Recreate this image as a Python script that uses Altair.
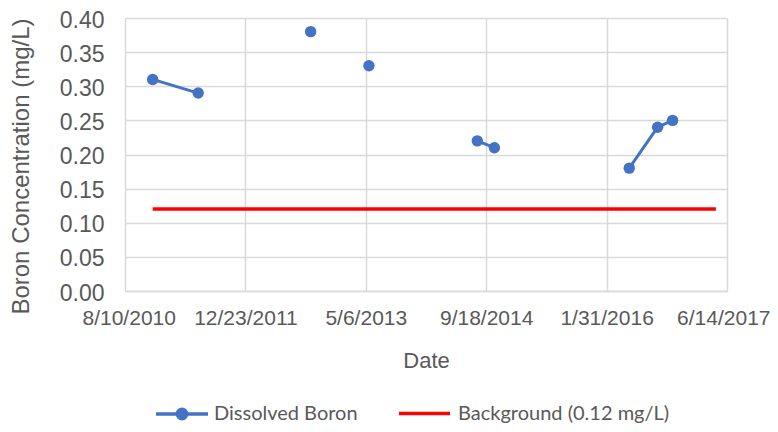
import altair as alt
import pandas as pd

# ---- data ----
boron_dates = ["2010-12-03", "2011-06-10", "2012-09-19", "2013-05-19", "2014-08-12",
               "2014-10-22", "2016-05-04", "2016-08-30", "2016-10-31"]
boron_values = [0.31, 0.29, 0.38, 0.33, 0.22, 0.21, 0.18, 0.24, 0.25]
boron_segments = [1, 1, 2, 3, 4, 4, 5, 5, 5]   # consecutive samples joined by a line

background_dates = ["2010-12-03", "2017-04-29"]
background_values = [0.12, 0.12]

x_ticks = [(2010, 8, 10), (2011, 12, 23), (2013, 5, 6), (2014, 9, 18), (2016, 1, 31), (2017, 6, 14)]
y_ticks = [0.0, 0.05, 0.10, 0.15, 0.20, 0.25, 0.30, 0.35, 0.40]

series_boron = "Dissolved Boron"
series_bg = "Background (0.12 mg/L)"

boron = pd.DataFrame({"date": boron_dates, "value": boron_values,
                      "segment": boron_segments, "series": series_boron})
bg = pd.DataFrame({"date": background_dates, "value": background_values, "series": series_bg})

BLUE = "#4472C4"
RED = "#FF0000"
GRID = "#D9D9D9"
TXT = "#595959"

def dt(t):
    return alt.DateTime(year=t[0], month=t[1], date=t[2], utc=True)

x_enc = alt.X(
    "date:T",
    scale=alt.Scale(type="utc", domain=[dt(x_ticks[0]), dt(x_ticks[-1])], nice=False),
    axis=alt.Axis(
        values=[dt(t) for t in x_ticks], format="%-m/%-d/%Y", title="Date",
        grid=True, gridColor=GRID, gridWidth=1.5, ticks=False,
        domain=True, domainColor=GRID, domainWidth=1.5,
        labelFont="Liberation Sans", labelFontSize=21, labelColor=TXT, labelPadding=16,
        labelFlush=True, labelFlushOffset=43, labelOverlap=False,
        titleFont="Liberation Sans", titleFontSize=22, titleColor=TXT, titleFontWeight="normal",
        titleBaseline="alphabetic", titleY=76,
    ),
)
y_enc = alt.Y(
    "value:Q",
    scale=alt.Scale(domain=[0, 0.4], nice=False, zero=True),
    axis=alt.Axis(
        values=y_ticks, format=".2f", title="Boron Concentration  (mg/L)",
        grid=True, gridColor=GRID, gridWidth=1.5, ticks=False, domain=False,
        labelFont="Liberation Sans", labelFontSize=23, labelColor=TXT, labelPadding=21,
        labelOffset=2,
        titleFont="Liberation Sans", titleFontSize=24, titleColor=TXT, titleFontWeight="normal",
        titleBaseline="alphabetic", titleX=-97, titleY=148, titleAngle=270,
    ),
)

DOT_LINE = "M-1,0L1,0M0.18,0A0.18,0.18,0,1,1,-0.18,0A0.18,0.18,0,1,1,0.18,0Z"

lines = alt.Chart(boron).mark_line(strokeWidth=3, color=BLUE).encode(
    x=x_enc, y=y_enc, detail="segment:N"
)
points = alt.Chart(boron).mark_point(filled=True, size=130, opacity=1).encode(
    x=x_enc, y=y_enc,
    color=alt.Color(
        "series:N",
        scale=alt.Scale(domain=[series_boron], range=[BLUE]),
        legend=alt.Legend(
            title=None, orient="none", legendX=29, legendY=368, padding=0,
            symbolType=DOT_LINE, symbolSize=2704, symbolStrokeColor=BLUE,
            symbolStrokeWidth=3.5, labelFont="Lato", labelFontSize=20,
            labelColor=TXT, labelOffset=4, labelLimit=300,
        ),
    ),
)
background = alt.Chart(bg).mark_line(strokeWidth=3.5).encode(
    x=x_enc, y=y_enc,
    stroke=alt.Stroke(
        "series:N",
        scale=alt.Scale(domain=[series_bg], range=[RED]),
        legend=alt.Legend(
            title=None, orient="none", legendX=272, legendY=368, padding=0,
            symbolType="stroke", symbolSize=2601, symbolStrokeWidth=3.5,
            labelFont="Lato", labelFontSize=20, labelColor=TXT, labelOffset=6,
            labelLimit=300,
        ),
    ),
)

chart = alt.layer(background, lines, points).resolve_scale(
    color="independent", stroke="independent"
).properties(
    width=602, height=273,
    padding={"left": 117, "top": 10, "right": 43, "bottom": 133},
    autosize=alt.AutoSizeParams(type="none"),
    background="white",
).configure_view(stroke=None)

chart.save("out.html", embed_options={"renderer": "svg", "actions": False})
